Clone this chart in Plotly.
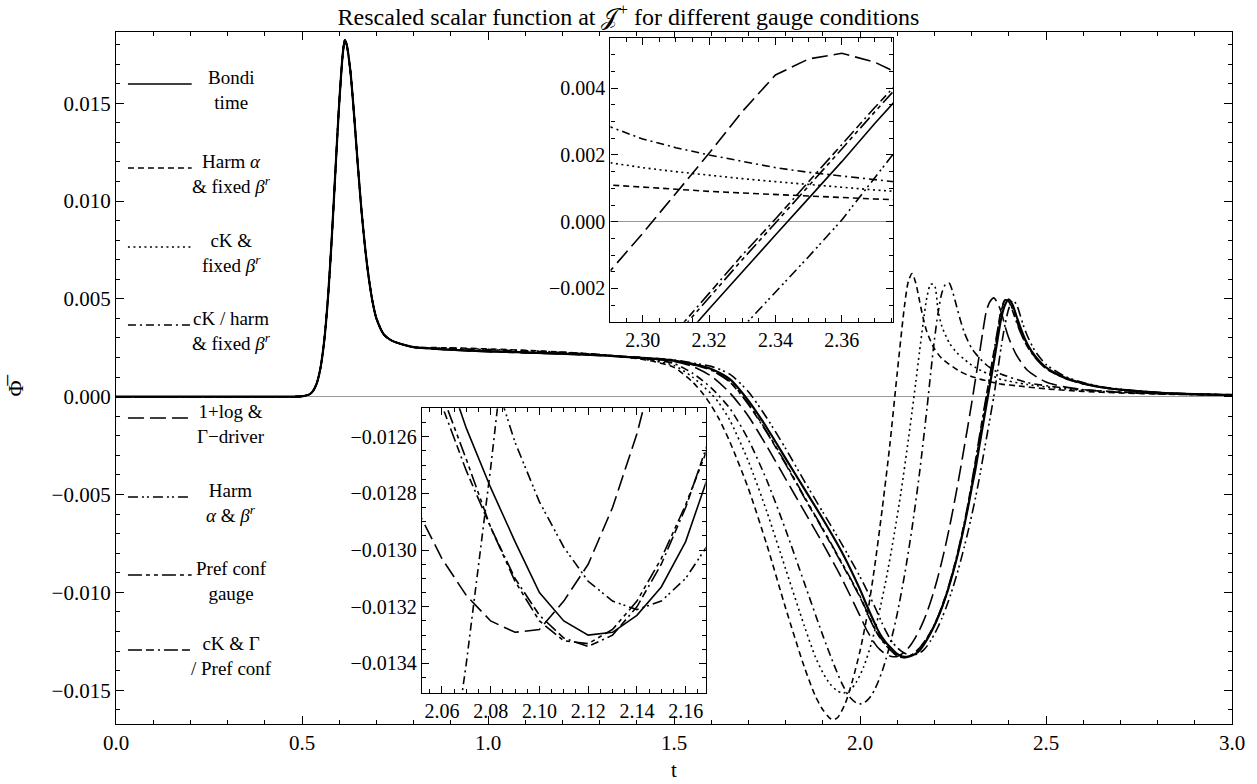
import plotly.graph_objects as go

FONT = "Liberation Serif"
W, H = 1257, 784
ML, MR, MT, MB = 116, 20, 32, 60

# ---------------- data ----------------
# common early pulse (all gauges coincide here)
T_PULSE = [0.00, 0.20, 0.40, 0.46, 0.48, 0.50, 0.52, 0.53, 0.54, 0.55, 0.56, 0.57, 0.58, 0.59, 0.60,
           0.61, 0.615, 0.62, 0.63, 0.64, 0.65, 0.66, 0.67, 0.68, 0.69, 0.70, 0.72, 0.74, 0.76, 0.78, 0.80]
Y_PULSE = [0, 0, 0, 0, 0.00000, 0.00002, 0.00012, 0.00030, 0.00070, 0.00150, 0.00290, 0.00510, 0.00810,
           0.01160, 0.01500, 0.01760, 0.01822, 0.01800, 0.01665, 0.01440, 0.01185, 0.00950, 0.00755,
           0.00600, 0.00482, 0.00400, 0.00318, 0.00288, 0.00273, 0.00262, 0.00253]

T_BONDI = [0.90, 1.00, 1.10, 1.20, 1.30, 1.40, 1.45, 1.50, 1.55, 1.60, 1.65, 1.70, 1.75, 1.80, 1.85,
           1.90, 1.95, 2.00, 2.02, 2.04, 2.05, 2.06, 2.07, 2.08, 2.09, 2.10, 2.11, 2.12, 2.13, 2.14,
           2.15, 2.16, 2.17, 2.18, 2.19, 2.20, 2.21, 2.22, 2.23, 2.24, 2.25, 2.26, 2.27, 2.28, 2.29,
           2.30, 2.31, 2.32, 2.33, 2.34, 2.35, 2.36, 2.37, 2.38, 2.39, 2.40, 2.41, 2.42, 2.43, 2.44,
           2.45, 2.47, 2.50, 2.55, 2.60, 2.65, 2.70, 2.80, 2.90, 3.00]
Y_BONDI = [0.00240, 0.00232, 0.00226, 0.00220, 0.00212, 0.00200, 0.00193, 0.00185, 0.00168, 0.00142,
           0.00090, -0.00020, -0.00160, -0.00315, -0.00470, -0.00625, -0.00790, -0.00985, -0.01075,
           -0.01160, -0.01200, -0.01232, -0.01257, -0.01278, -0.01297, -0.01315, -0.01325, -0.01330,
           -0.01329, -0.01323, -0.01313, -0.01297, -0.01272, -0.01242, -0.01208, -0.01170, -0.01127,
           -0.01079, -0.01025, -0.00965, -0.00899, -0.00827, -0.00748, -0.00662, -0.00569, -0.00469,
           -0.00375, -0.00262, -0.00150, -0.00040, 0.00070, 0.00180, 0.00295, 0.00405, 0.00470,
           0.00498, 0.00470, 0.00415, 0.00360, 0.00310, 0.00268, 0.00210, 0.00150, 0.00098, 0.00068,
           0.00048, 0.00036, 0.00021, 0.00013, 0.00009]

T_HARM_FIXED = [0.90, 1.00, 1.10, 1.20, 1.30, 1.40, 1.45, 1.50, 1.55, 1.58, 1.60, 1.62, 1.65, 1.70,
                1.75, 1.80, 1.85, 1.88, 1.90, 1.92, 1.93, 1.94, 1.96, 1.98, 2.00, 2.02, 2.04, 2.06,
                2.08, 2.10, 2.12, 2.13, 2.14, 2.15, 2.16, 2.17, 2.18, 2.20, 2.22, 2.25, 2.27, 2.29,
                2.30, 2.31, 2.32, 2.33, 2.34, 2.35, 2.36, 2.37, 2.38, 2.42, 2.50, 2.60, 2.70, 2.80,
                2.90, 3.00]
Y_HARM_FIXED = [0.00250, 0.00244, 0.00237, 0.00228, 0.00215, 0.00195, 0.00178, 0.00150, 0.00075,
                0.00010, -0.00045, -0.00110, -0.00230, -0.00470, -0.00760, -0.01080, -0.01380,
                -0.01530, -0.01600, -0.01645, -0.01650, -0.01640, -0.01570, -0.01450, -0.01300,
                -0.01110, -0.00860, -0.00570, -0.00250, 0.00120, 0.00470, 0.00590, 0.00630, 0.00580,
                0.00490, 0.00400, 0.00330, 0.00245, 0.00195, 0.00152, 0.00128, 0.00110, 0.00103,
                0.00097, 0.00091, 0.00086, 0.00081, 0.00076, 0.00072, 0.00068, 0.00064, 0.00056,
                0.00040, 0.00027, 0.00019, 0.00014, 0.00010, 0.00008]

T_CK_FIXED = [0.90, 1.00, 1.10, 1.20, 1.30, 1.40, 1.45, 1.50, 1.55, 1.60, 1.62, 1.65, 1.70, 1.75,
              1.80, 1.85, 1.88, 1.90, 1.92, 1.94, 1.955, 1.97, 1.99, 2.01, 2.03, 2.05, 2.07, 2.09,
              2.11, 2.13, 2.14, 2.15, 2.16, 2.17, 2.18, 2.19, 2.20, 2.21, 2.22, 2.24, 2.26, 2.28,
              2.29, 2.30, 2.31, 2.32, 2.33, 2.34, 2.35, 2.36, 2.37, 2.38, 2.45, 2.55, 2.65, 2.75,
              2.85, 3.00]
Y_CK_FIXED = [0.00248, 0.00242, 0.00235, 0.00227, 0.00215, 0.00197, 0.00182, 0.00160, 0.00100,
              0.00015, -0.00030, -0.00120, -0.00330, -0.00590, -0.00880, -0.01170, -0.01330,
              -0.01410, -0.01470, -0.01505, -0.01515, -0.01505, -0.01460, -0.01380, -0.01265,
              -0.01115, -0.00935, -0.00725, -0.00490, -0.00220, -0.00075, 0.00075, 0.00230, 0.00380,
              0.00510, 0.00575, 0.00570, 0.00440, 0.00360, 0.00275, 0.00225, 0.00192, 0.00176,
              0.00162, 0.00150, 0.00139, 0.00129, 0.00120, 0.00111, 0.00103, 0.00095, 0.00088,
              0.00062, 0.00040, 0.00027, 0.00019, 0.00013, 0.00008]

T_CK_HARM_FIXED = [0.90, 1.00, 1.10, 1.20, 1.30, 1.40, 1.45, 1.50, 1.55, 1.60, 1.65, 1.70, 1.75,
                   1.80, 1.85, 1.90, 1.93, 1.95, 1.97, 1.99, 2.00, 2.01, 2.02, 2.03, 2.04, 2.05,
                   2.06, 2.07, 2.08, 2.09, 2.10, 2.12, 2.14, 2.16, 2.18, 2.19, 2.20, 2.21, 2.22,
                   2.23, 2.24, 2.25, 2.26, 2.27, 2.28, 2.29, 2.30, 2.31, 2.32, 2.33, 2.34, 2.35,
                   2.36, 2.37, 2.38, 2.45, 2.55, 2.65, 2.75, 2.85, 3.00]
Y_CK_HARM_FIXED = [0.00246, 0.00240, 0.00233, 0.00226, 0.00215, 0.00199, 0.00187, 0.00170, 0.00120,
                   0.00045, -0.00060, -0.00220, -0.00430, -0.00680, -0.00950, -0.01220, -0.01370,
                   -0.01460, -0.01530, -0.01565, -0.01570, -0.01565, -0.01551, -0.01528, -0.01495,
                   -0.01452, -0.01401, -0.01340, -0.01271, -0.01195, -0.01110, -0.00910, -0.00670,
                   -0.00390, -0.00060, 0.00120, 0.00290, 0.00430, 0.00530, 0.00575, 0.00580, 0.00530,
                   0.00460, 0.00390, 0.00330, 0.00285, 0.00248, 0.00222, 0.00200, 0.00180, 0.00162,
                   0.00148, 0.00136, 0.00125, 0.00115, 0.00072, 0.00044, 0.00029, 0.00020, 0.00014,
                   0.00009]

T_LOG_GAMMA = [0.90, 1.00, 1.10, 1.20, 1.30, 1.40, 1.45, 1.50, 1.55, 1.60, 1.65, 1.70, 1.75, 1.80,
               1.85, 1.90, 1.95, 2.00, 2.02, 2.04, 2.05, 2.06, 2.07, 2.08, 2.09, 2.10, 2.11, 2.12,
               2.13, 2.14, 2.15, 2.16, 2.17, 2.18, 2.19, 2.20, 2.21, 2.22, 2.23, 2.24, 2.25, 2.26,
               2.27, 2.28, 2.29, 2.30, 2.31, 2.32, 2.33, 2.34, 2.35, 2.36, 2.37, 2.38, 2.39, 2.40,
               2.42, 2.45, 2.50, 2.55, 2.60, 2.70, 2.80, 2.90, 3.00]
Y_LOG_GAMMA = [0.00238, 0.00230, 0.00224, 0.00218, 0.00210, 0.00199, 0.00191, 0.00180, 0.00155,
               0.00105, 0.00020, -0.00100, -0.00255, -0.00420, -0.00585, -0.00750, -0.00925,
               -0.01120, -0.01200, -0.01262, -0.01286, -0.01303, -0.01316, -0.01325, -0.01329,
               -0.01328, -0.01318, -0.01305, -0.01285, -0.01259, -0.01228, -0.01192, -0.01150,
               -0.01102, -0.01047, -0.00985, -0.00917, -0.00842, -0.00760, -0.00672, -0.00577,
               -0.00476, -0.00370, -0.00260, -0.00150, -0.00035, 0.00085, 0.00205, 0.00330, 0.00440,
               0.00488, 0.00505, 0.00478, 0.00430, 0.00360, 0.00300, 0.00215, 0.00135, 0.00075,
               0.00050, 0.00036, 0.00022, 0.00015, 0.00011, 0.00008]

T_HARM_AB = [0.90, 1.00, 1.10, 1.20, 1.30, 1.40, 1.45, 1.50, 1.55, 1.60, 1.65, 1.70, 1.75, 1.80,
             1.85, 1.90, 1.95, 2.00, 2.02, 2.04, 2.06, 2.07, 2.08, 2.09, 2.10, 2.11, 2.12, 2.13,
             2.14, 2.15, 2.16, 2.17, 2.18, 2.19, 2.20, 2.21, 2.22, 2.23, 2.24, 2.25, 2.26, 2.27,
             2.28, 2.29, 2.30, 2.31, 2.32, 2.33, 2.34, 2.35, 2.36, 2.37, 2.38, 2.39, 2.40, 2.41,
             2.42, 2.43, 2.44, 2.45, 2.47, 2.50, 2.55, 2.60, 2.65, 2.70, 2.80, 2.90, 3.00]
Y_HARM_AB = [0.00241, 0.00233, 0.00227, 0.00221, 0.00213, 0.00202, 0.00196, 0.00188, 0.00172,
             0.00155, 0.00115, 0.00025, -0.00110, -0.00265, -0.00430, -0.00590, -0.00750, -0.00920,
             -0.00995, -0.01075, -0.01160, -0.01200, -0.01235, -0.01262, -0.01283, -0.01299,
             -0.01311, -0.01318, -0.01321, -0.01318, -0.01310, -0.01297, -0.01275, -0.01247,
             -0.01214, -0.01176, -0.01133, -0.01085, -0.01032, -0.00974, -0.00911, -0.00843,
             -0.00770, -0.00692, -0.00609, -0.00521, -0.00425, -0.00318, -0.00212, -0.00105,
             0.00005, 0.00132, 0.00260, 0.00370, 0.00450, 0.00490, 0.00475, 0.00420, 0.00360,
             0.00310, 0.00235, 0.00165, 0.00105, 0.00072, 0.00051, 0.00038, 0.00022, 0.00014, 0.00010]

T_PREF_CONF = [0.90, 1.00, 1.10, 1.20, 1.30, 1.40, 1.45, 1.50, 1.55, 1.60, 1.65, 1.70, 1.75, 1.80,
               1.85, 1.90, 1.95, 2.00, 2.02, 2.04, 2.05, 2.06, 2.07, 2.08, 2.09, 2.10, 2.11, 2.12,
               2.13, 2.14, 2.15, 2.16, 2.17, 2.18, 2.19, 2.20, 2.21, 2.22, 2.23, 2.24, 2.25, 2.26,
               2.27, 2.28, 2.29, 2.30, 2.31, 2.32, 2.33, 2.34, 2.35, 2.36, 2.37, 2.38, 2.39, 2.40,
               2.41, 2.42, 2.43, 2.44, 2.45, 2.47, 2.50, 2.55, 2.60, 2.65, 2.70, 2.80, 2.90, 3.00]
Y_PREF_CONF = [0.00240, 0.00232, 0.00226, 0.00220, 0.00212, 0.00201, 0.00194, 0.00183, 0.00165,
               0.00138, 0.00078, -0.00035, -0.00180, -0.00340, -0.00510, -0.00675, -0.00845,
               -0.01020, -0.01105, -0.01185, -0.01218, -0.01245, -0.01268, -0.01292, -0.01311,
               -0.01325, -0.01332, -0.01333, -0.01328, -0.01318, -0.01303, -0.01284, -0.01262,
               -0.01236, -0.01205, -0.01169, -0.01127, -0.01079, -0.01025, -0.00965, -0.00899,
               -0.00826, -0.00746, -0.00659, -0.00565, -0.00458, -0.00342, -0.00228, -0.00114,
               -0.00004, 0.00106, 0.00218, 0.00330, 0.00440, 0.00492, 0.00490, 0.00448, 0.00392,
               0.00340, 0.00296, 0.00260, 0.00203, 0.00145, 0.00095, 0.00066, 0.00047, 0.00035,
               0.00020, 0.00013, 0.00009]

T_CK_GAMMA = [0.90, 1.00, 1.10, 1.20, 1.30, 1.40, 1.45, 1.50, 1.55, 1.60, 1.65, 1.70, 1.75, 1.80,
              1.85, 1.90, 1.95, 2.00, 2.02, 2.04, 2.05, 2.06, 2.07, 2.08, 2.09, 2.10, 2.11, 2.12,
              2.13, 2.14, 2.15, 2.16, 2.17, 2.18, 2.19, 2.20, 2.21, 2.22, 2.23, 2.24, 2.25, 2.26,
              2.27, 2.28, 2.29, 2.30, 2.31, 2.32, 2.33, 2.34, 2.35, 2.36, 2.37, 2.38, 2.39, 2.40,
              2.41, 2.42, 2.43, 2.44, 2.45, 2.47, 2.50, 2.55, 2.60, 2.65, 2.70, 2.80, 2.90, 3.00]
Y_CK_GAMMA = [0.00240, 0.00232, 0.00226, 0.00220, 0.00212, 0.00200, 0.00193, 0.00182, 0.00163,
              0.00135, 0.00075, -0.00040, -0.00185, -0.00345, -0.00515, -0.00680, -0.00850,
              -0.01025, -0.01110, -0.01190, -0.01222, -0.01249, -0.01272, -0.01292, -0.01310,
              -0.01323, -0.01331, -0.01334, -0.01330, -0.01320, -0.01305, -0.01285, -0.01260,
              -0.01233, -0.01201, -0.01164, -0.01121, -0.01072, -0.01017, -0.00956, -0.00889,
              -0.00815, -0.00734, -0.00646, -0.00551, -0.00442, -0.00330, -0.00215, -0.00100,
              0.00008, 0.00120, 0.00232, 0.00343, 0.00450, 0.00495, 0.00485, 0.00440, 0.00385,
              0.00335, 0.00292, 0.00256, 0.00200, 0.00143, 0.00094, 0.00065, 0.00047, 0.00035,
              0.00020, 0.00013, 0.00009]

LABELS = [
    "Bondi<br>time",
    "Harm <i>α</i><br>&amp; fixed <i>β</i><sup><i>r</i></sup>",
    "cK &amp;<br>fixed <i>β</i><sup><i>r</i></sup>",
    "cK / harm<br>&amp; fixed <i>β</i><sup><i>r</i></sup>",
    "1+log &amp;<br>Γ−driver",
    "Harm<br><i>α</i> &amp; <i>β</i><sup><i>r</i></sup>",
    "Pref conf<br>gauge",
    "cK &amp; Γ<br>/ Pref conf",
]
SERIES_T = [T_BONDI, T_HARM_FIXED, T_CK_FIXED, T_CK_HARM_FIXED, T_LOG_GAMMA, T_HARM_AB, T_PREF_CONF, T_CK_GAMMA]
SERIES_Y = [Y_BONDI, Y_HARM_FIXED, Y_CK_FIXED, Y_CK_HARM_FIXED, Y_LOG_GAMMA, Y_HARM_AB, Y_PREF_CONF, Y_CK_GAMMA]

# ---------------- styles ----------------
DASHES = ["solid", "6px,4px", "2px,3.5px", "8px,4px,2px,4px", "16px,6px",
          "10px,4px,2px,3px,2px,4px", "14px,4px,4px,4px,4px,4px", "14px,4px,8px,4px,2px,4px"]
LEG_Y_PX = [84, 168, 247, 325, 418, 497, 575, 650]

PW, PH = W - ML - MR, H - MT - MB


def px2x(px):
    return (px - ML) / PW


def px2y(py):
    return (H - MB - py) / PH


fig = go.Figure()

for lab, t, y, dash in zip(LABELS, SERIES_T, SERIES_Y, DASHES):
    assert len(t) == len(y), lab
    tt = T_PULSE + t
    yy = Y_PULSE + y
    w_main = 2.2 if dash == "solid" else 1.6
    fig.add_trace(go.Scatter(x=tt, y=yy, mode="lines", showlegend=False, hoverinfo="skip",
                             line=dict(color="black", width=w_main, dash=dash, shape="spline", smoothing=0.7),
                             xaxis="x", yaxis="y"))
    for ax in ("2", "3"):
        fig.add_trace(go.Scatter(x=tt, y=yy, mode="lines", showlegend=False, hoverinfo="skip",
                                 line=dict(color="black", width=1.6, dash=dash),
                                 xaxis="x" + ax, yaxis="y" + ax))


def frame_axis(size, minor_dtick, **kw):
    d = dict(showline=True, linecolor="black", linewidth=1.3, mirror="ticks", ticks="inside",
             ticklen=8, tickwidth=1, tickcolor="black", showgrid=False, zeroline=False,
             tickfont=dict(family=FONT, size=size, color="black"),
             minor=dict(ticks="inside", ticklen=4, tickwidth=1, tickcolor="black",
                        showgrid=False, dtick=minor_dtick))
    d.update(kw)
    return d


up = dict(x0=612.7, x1=896.7, y0=38.3, y1=321.7)
lo = dict(x0=423.3, x1=708.3, y0=408.3, y1=692.7)

fig.update_layout(
    width=W, height=H, autosize=False,
    margin=dict(l=ML, r=MR, t=MT, b=MB),
    paper_bgcolor="white", plot_bgcolor="white",
    font=dict(family=FONT, color="black"),
    title=dict(text="Rescaled scalar function at 𝒥<sup>+</sup> for different gauge conditions",
               x=0.5, xref="container", xanchor="center", y=1 - 17 / H, yref="container",
               yanchor="middle", font=dict(family=FONT, size=24, color="black")),
    xaxis=frame_axis(21, 0.1, range=[0, 3], tick0=0, dtick=0.5, tickformat=".1f", anchor="y"),
    yaxis=frame_axis(21, 0.001, range=[-0.01673, 0.01864], tick0=0, dtick=0.005, tickformat=".3f",
                     zeroline=True, zerolinecolor="#9a9a9a", zerolinewidth=1, anchor="x"),
    xaxis2=frame_axis(20, 0.005, domain=[px2x(up["x0"]), px2x(up["x1"])], range=[2.2903, 2.3755],
                      tick0=0, dtick=0.02, tickformat=".2f", anchor="y2", ticklen=7),
    yaxis2=frame_axis(20, 0.0005, domain=[px2y(up["y1"]), px2y(up["y0"])], range=[-0.003, 0.0055],
                      tick0=0, dtick=0.002, tickformat=".3f", anchor="x2", ticklen=7,
                      zeroline=True, zerolinecolor="#9a9a9a", zerolinewidth=1),
    xaxis3=frame_axis(20, 0.005, domain=[px2x(lo["x0"]), px2x(lo["x1"])], range=[2.0518, 2.1682],
                      tick0=0, dtick=0.02, tickformat=".2f", anchor="y3", ticklen=7),
    yaxis3=frame_axis(20, 0.00005, domain=[px2y(lo["y1"]), px2y(lo["y0"])], range=[-0.013503, -0.0125],
                      tick0=0, dtick=0.0002, tickformat=".4f", anchor="x3", ticklen=7),
)

# axis labels
fig.add_annotation(text="t", xref="paper", yref="paper", x=0.5, y=px2y(770), showarrow=False,
                   xanchor="center", yanchor="middle", font=dict(family=FONT, size=21))
fig.add_annotation(text="Φ̅", xref="paper", yref="paper", x=px2x(16), y=px2y(385), showarrow=False,
                   textangle=-90, xanchor="center", yanchor="middle", font=dict(family=FONT, size=22))

# legend (drawn inside the frame, like the original)
for lab, dash, ly in zip(LABELS, DASHES, LEG_Y_PX):
    fig.add_shape(type="line", xref="paper", yref="paper", x0=px2x(128), x1=px2x(192),
                  y0=px2y(ly), y1=px2y(ly), line=dict(color="black", width=1.5, dash=dash))
    fig.add_annotation(text=lab, xref="paper", yref="paper", x=px2x(232), y=px2y(ly + 6),
                       showarrow=False, xanchor="center", yanchor="middle", align="center",
                       font=dict(family=FONT, size=19, color="black"))

# the page is photographed from its top-left corner: remove the default body margin
fig.write_html("out.html", config={"displayModeBar": False},
               post_script="document.body.style.margin='0';")
